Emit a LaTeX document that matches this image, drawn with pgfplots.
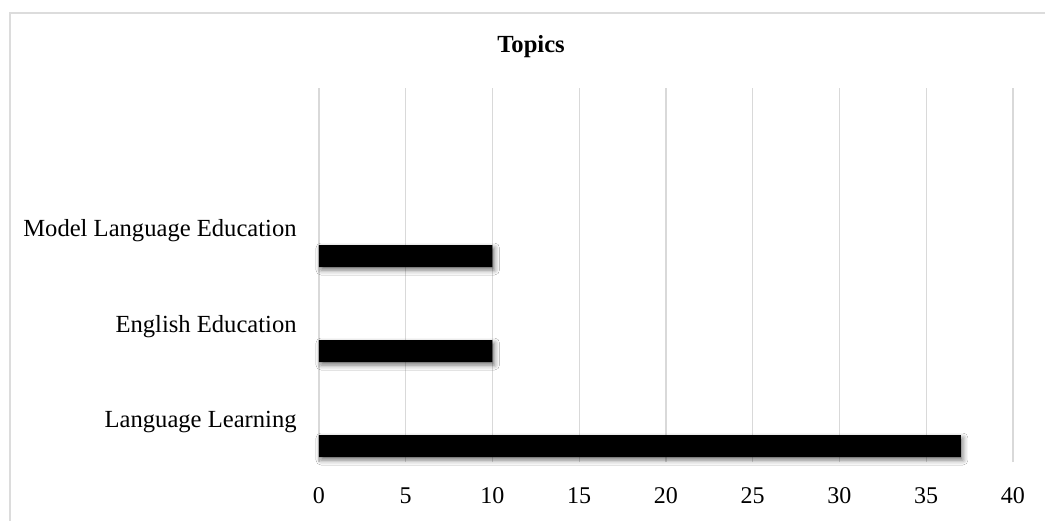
\documentclass[border=0pt]{standalone}
\usepackage{fontspec}
\setmainfont{Liberation Serif}
\usepackage{pgfplots}
\pgfplotsset{compat=1.18}
\usetikzlibrary{shadows.blur}

\definecolor{gridgray}{HTML}{D9D9D9}
\definecolor{framegray}{HTML}{DCDCDC}

\begin{document}
\begin{tikzpicture}
% canvas: 0.5pt per unit of the chart area
\useasboundingbox (0,0) rectangle (522.5pt,-260pt);
\fill[white] (0,0) rectangle (522.5pt,-260pt);
% chart frame (left and top edges)
\draw[framegray, line width=0.9pt] (5pt,-262pt) -- (5pt,-6.5pt) -- (524pt,-6.5pt);

\begin{axis}[
  at={(159.5pt,-231pt)}, anchor=south west,
  scale only axis,
  width=347pt, height=187pt,
  xmin=0, xmax=40,
  ymin=-0.168, ymax=3.768,
  axis line style={draw=none},
  xtick={0,5,...,40},
  xmajorgrids,
  grid style={gridgray, line width=0.6pt},
  major tick length=0pt,
  ytick={0.2,1.2,2.2},
  yticklabels={Language Learning, English Education, Model Language Education},
  yticklabel style={anchor=base east, inner sep=0pt, xshift=-11pt, font=\fontsize{12.3}{14}\selectfont},
  xticklabel style={anchor=base, inner sep=0pt, yshift=-20.5pt, font=\fontsize{12}{14}\selectfont},
  /pgf/number format/assume math mode=true,
  title={Topics},
  title style={at={(0.3055,1)}, anchor=base, yshift=12pt, inner sep=0pt, font=\fontsize{12.3}{14}\selectfont\bfseries},
  xbar, bar width=11pt, bar shift=0pt,
  clip=false,
]
\addplot[fill=black, draw=none,
  blur shadow={shadow xshift=1pt, shadow yshift=-1.5pt, shadow blur radius=2.5pt, shadow opacity=55}]
  coordinates {(37,0) (10,1) (10,2)};
\end{axis}
\end{tikzpicture}
\end{document}
